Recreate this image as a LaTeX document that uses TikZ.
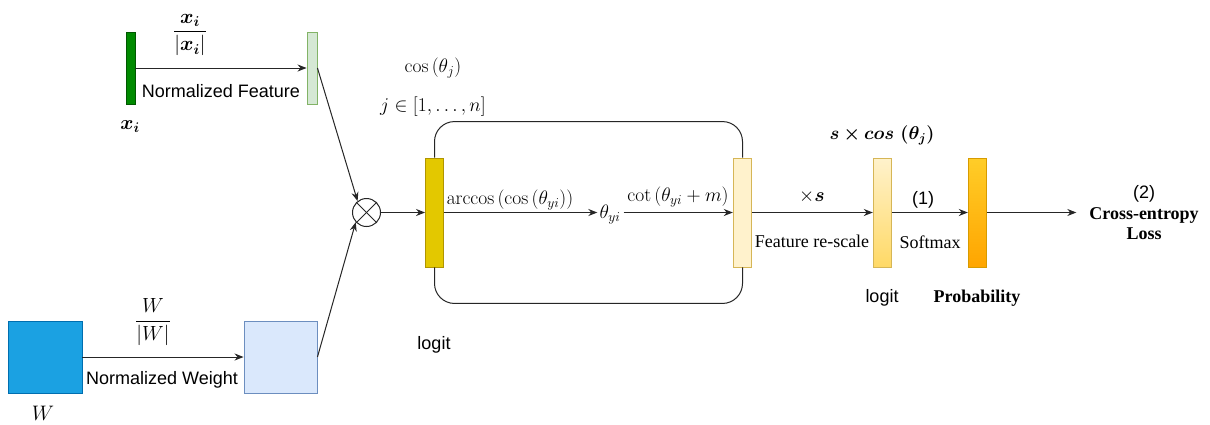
\RequirePackage{fix-cm}
\documentclass[tikz,border=0pt]{standalone}
\usepackage{amsmath}
\usepackage[no-math]{fontspec}
\setmainfont{Liberation Serif}
\setsansfont{Liberation Sans}
\usepackage{bm}
\usetikzlibrary{arrows.meta,calc}

\definecolor{dgreen}{HTML}{008A00}
\definecolor{dgreenb}{HTML}{005700}
\definecolor{lgreen}{HTML}{D5E8D4}
\definecolor{lgreenb}{HTML}{82B366}
\definecolor{dblue}{HTML}{1BA1E2}
\definecolor{dblueb}{HTML}{006EAF}
\definecolor{lblue}{HTML}{DAE8FC}
\definecolor{lblueb}{HTML}{6C8EBF}
\definecolor{dyellow}{HTML}{E3C800}
\definecolor{dyellowb}{HTML}{B09500}
\definecolor{lyellow}{HTML}{FFF2CC}
\definecolor{lyellowb}{HTML}{D6B656}
\definecolor{myellow}{HTML}{FFD966}
\definecolor{orangetop}{HTML}{FFCD28}
\definecolor{orangebot}{HTML}{FFA500}
\definecolor{orangeb}{HTML}{D79B00}

\tikzset{
  barbox/.style={rectangle, inner sep=0pt, line width=0.9pt},
  tallbar/.style={barbox, minimum width=18.5pt, minimum height=109pt},
  lbl/.style={inner sep=0pt, text=black},
  mlbl/.style={lbl, font=\fontsize{19.5}{22}\selectfont},
  sanslbl/.style={lbl, font=\fontsize{18}{21}\selectfont\sffamily},
  arr/.style={-{Stealth[length=9pt,width=7pt]}, line width=1pt, draw=black!85},
  plain/.style={line width=1pt, draw=black!85},
}

\begin{document}
\begin{tikzpicture}[x=1pt,y=-1pt,font=\fontsize{18}{21}\selectfont]
\fill[white] (0,0) rectangle (1210,424);
\useasboundingbox (0,0) rectangle (1210,424);

% feature branch
\node[barbox, fill=dgreen, draw=dgreenb, minimum width=9pt, minimum height=72pt] (xi) at (130.5,68) {};
\node[barbox, fill=lgreen, draw=lgreenb, minimum width=10pt, minimum height=72pt] (nfeat) at (312,68) {};
\draw[arr] (xi.east) -- (nfeat.west);
\node[lbl, font=\fontsize{20.5}{23}\selectfont] (fracx) at (190,35) {$\dfrac{\bm{x_i}}{|\bm{x_i}|}$};
\node[sanslbl] (nftxt) at (221,91) {Normalized Feature};
\node[lbl, font=\fontsize{20}{23}\selectfont] (xilbl) at (130,127) {$\bm{x_i}$};

% weight branch
\node[barbox, fill=dblue, draw=dblueb, minimum width=74pt, minimum height=72pt] (w) at (45,357) {};
\node[barbox, fill=lblue, draw=lblueb, minimum width=73pt, minimum height=72pt] (nw) at (280.5,357) {};
\draw[arr] (w.east) -- (nw.west);
\node[lbl, font=\fontsize{20.5}{23}\selectfont] (fracw) at (153,322) {$\dfrac{W}{|W|}$};
\node[sanslbl] (nwtxt) at (162,380) {Normalized Weight};
\node[lbl, font=\fontsize{21}{24}\selectfont] (wlbl) at (43,413) {$W$};

% multiplication
\node[circle, draw=black!85, line width=1pt, minimum size=28pt, inner sep=0pt] (mult) at (366.5,212.5) {};
\draw[plain] (mult.45) -- (mult.225);
\draw[plain] (mult.135) -- (mult.315);
\draw[arr] (nfeat.east) -- (mult.128);
\draw[arr] (nw.east) -- (mult.222);

% cosine block
\node[tallbar, fill=dyellow, draw=dyellowb, minimum width=18pt] (cosb) at (434.5,212.5) {};
\node[tallbar, fill=lyellow, draw=lyellowb] (cotb) at (742.5,212.5) {};
\draw[arr] (mult.east) -- (cosb.west);
\node[mlbl] (theta) at (610,215) {$\theta_{yi}$};
\draw[arr] (cosb.east) -- ($(cosb.east -| theta.west)+(-2,0)$);
\draw[arr] ($(cotb.west -| theta.east)+(3,0)$) -- (cotb.west);
\node[mlbl] (arccos) at (510,200) {$\arccos\left(\cos\left(\theta_{yi}\right)\right)$};
\node[mlbl] (cotl) at (678,197) {$\cot\left(\theta_{yi}+m\right)$};
\draw[plain, rounded corners=20pt] (cosb.north) -- ++(0,-36) -| (cotb.north);
\draw[plain, rounded corners=20pt] (cosb.south) -- ++(0,36) -| (cotb.south);
\node[mlbl] (cosj) at (433,68) {$\cos\left(\theta_j\right)$};
\node[mlbl] (jrange) at (433,107) {$j\in[1,\ldots,n]$};
\node[sanslbl] (logit1) at (434,345) {logit};

% rescale and softmax
\node[tallbar, top color=lyellow, bottom color=myellow, draw=lyellowb] (logb) at (882.5,212.5) {};
\node[tallbar, top color=orangetop, bottom color=orangebot, draw=orangeb] (probb) at (977.5,212.5) {};
\draw[arr] (cotb.east) -- (logb.west);
\draw[arr] (logb.east) -- (probb.west);
\node[mlbl] (xs) at (812,197) {$\times\bm{s}$};
\node[lbl] (rescale) at (812,241) {Feature re-scale};
\node[lbl, font=\fontsize{18.5}{22}\selectfont] (scos) at (882,135) {$\bm{s\times cos\,\left(\theta_j\right)}$};
\node[sanslbl] (logit2) at (882,298) {logit};
\node[sanslbl] (one) at (923,200) {(1)};
\node[lbl] (softmax) at (930,242) {Softmax};
\node[lbl, font=\fontsize{18}{21}\selectfont\bfseries] (probtxt) at (977,298) {Probability};

% loss
\node[lbl, align=center, font=\fontsize{18}{20.5}\selectfont, outer xsep=13pt] (loss) at (1144,213)
  {{\sffamily (2)}\\ \textbf{Cross-entropy}\\ \textbf{Loss}};
\draw[arr] (probb.east) -- (probb.east -| loss.west);
\end{tikzpicture}
\end{document}
